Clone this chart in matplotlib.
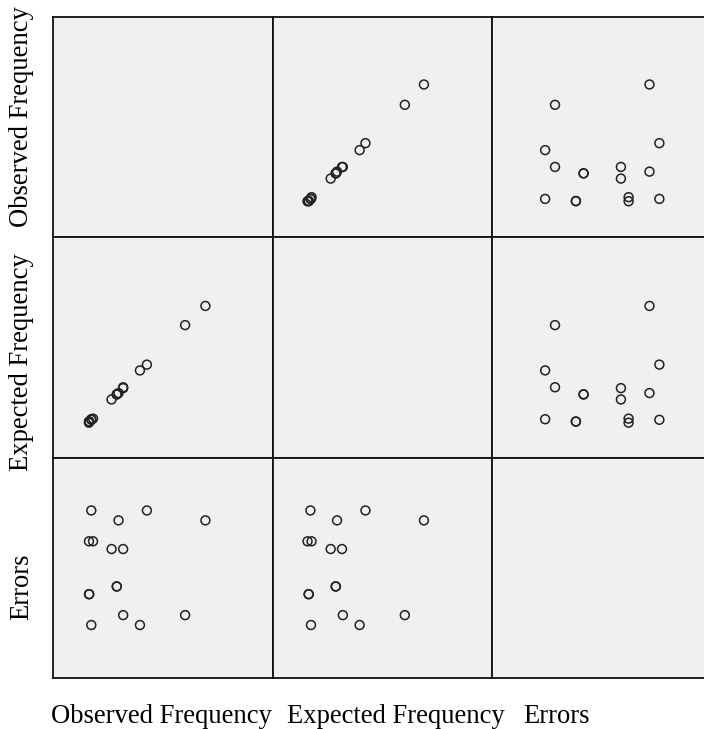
import matplotlib
matplotlib.use("Agg")
import matplotlib.pyplot as plt

# Data
variables = ["Observed Frequency", "Expected Frequency", "Errors"]
observed = [1.4, 11.0, 6.1, 21.1, 1.0, 1.7, 4.9, 6.9, 5.8, 5.8, 1.0, 1.05, 6.9, 17.6, 1.4, 9.8]
expected = [1.3, 10.8, 5.9, 20.9, 0.8, 1.5, 4.8, 6.75, 5.65, 5.7, 1.0, 1.0, 6.9, 17.6, 1.4, 9.8]
errors = [0.52, 0.52, 0.43, 0.43, 0.24, 0.24, 0.17, 0.17, -0.17, -0.17, -0.24, -0.24, -0.43, -0.43, -0.52, -0.52]

limits = [(-5.21, 32.72), (-5.21, 32.72), (-1.0, 1.0)]
series = [observed, expected, errors]

W, H = 704, 729
fig = plt.figure(figsize=(W / 100, H / 100), dpi=100)

left_px, top_px = 53, 17
pw, ph = 219.7, 220.3

for r in range(3):
    for c in range(3):
        x0 = left_px + c * pw
        y1 = top_px + (r + 1) * ph
        ax = fig.add_axes([x0 / W, 1 - y1 / H, pw / W, ph / H])
        ax.set_facecolor("#f0f0f0")
        for s in ax.spines.values():
            s.set_linewidth(1.3)
            s.set_color("#111111")
        ax.set_xticks([])
        ax.set_yticks([])
        ax.set_xlim(*limits[c])
        ax.set_ylim(*limits[r])
        if r != c:
            ax.scatter(series[c], series[r], s=6.4 ** 2, facecolors="none",
                       edgecolors="#222222", linewidths=1.1, zorder=3)

font = dict(family=["Liberation Serif", "DejaVu Serif"], size=19.2, color="black")

# Row labels (rotated)
for label, yc in zip(variables, [117, 362.5, 586.5]):
    fig.text(21.5 / W, 1 - yc / H, label, rotation=90, ha="center", va="center", **font)

# Column labels
for label, xc in zip(variables, [161, 395.5, 556]):
    fig.text(xc / W, 1 - 723 / H, label, ha="center", va="baseline", **font)

fig.savefig("out.png", dpi=100)
